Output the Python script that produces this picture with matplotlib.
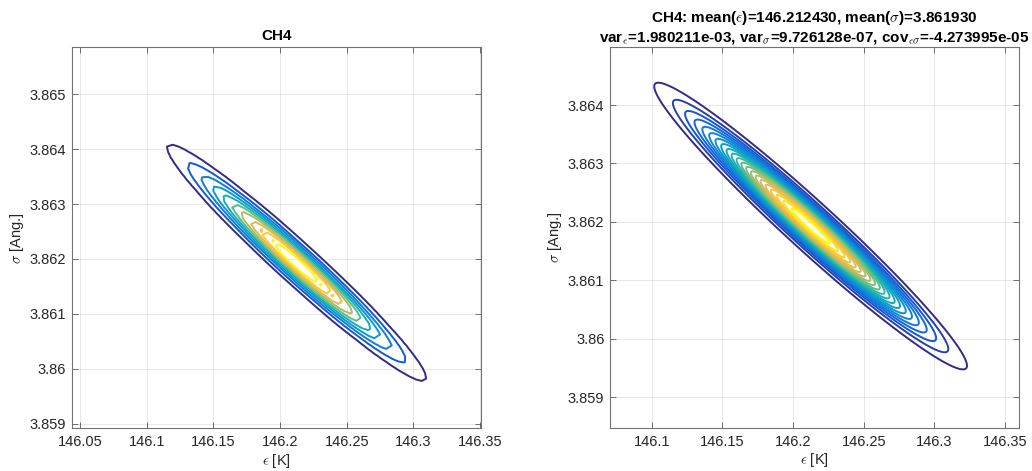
import numpy as np
import matplotlib.pyplot as plt
from matplotlib.colors import LinearSegmentedColormap, Normalize

plt.rcParams['font.family'] = ['Liberation Sans', 'DejaVu Sans']
plt.rcParams['mathtext.fontset'] = 'cm'

# posterior statistics for CH4 (from the title)
mean_eps = 146.212430
mean_sig = 3.861930
var_eps = 1.980211e-03
var_sig = 9.726128e-07
cov_es = -4.273995e-05

# axis ticks
left_xticks = [146.05, 146.1, 146.15, 146.2, 146.25, 146.3, 146.35]
left_yticks = [3.859, 3.86, 3.861, 3.862, 3.863, 3.864, 3.865]
right_xticks = [146.1, 146.15, 146.2, 146.25, 146.3, 146.35]
right_yticks = [3.859, 3.86, 3.861, 3.862, 3.863, 3.864]

# parula-like colormap (matlab default)
parula_pts = [
    (0.2081, 0.1663, 0.5292),
    (0.0591, 0.3598, 0.8683),
    (0.0723, 0.4887, 0.8467),
    (0.0265, 0.6137, 0.8135),
    (0.0843, 0.6928, 0.7062),
    (0.3482, 0.7424, 0.5473),
    (0.6473, 0.7456, 0.4188),
    (0.8824, 0.7274, 0.3217),
    (0.9955, 0.7861, 0.1967),
    (0.9763, 0.9831, 0.0538),
]
parula = LinearSegmentedColormap.from_list('parula', parula_pts)


def gauss2d(E, S):
    """bivariate normal density from the mean / covariance above"""
    det = var_eps * var_sig - cov_es ** 2
    de = E - mean_eps
    ds = S - mean_sig
    q = (var_sig * de ** 2 - 2 * cov_es * de * ds + var_eps * ds ** 2) / det
    return np.exp(-0.5 * q) / (2 * np.pi * np.sqrt(det))


def style(ax, xt, yt):
    ax.set_xticks(xt)
    ax.set_xticklabels(['%g' % v for v in xt])
    ax.set_yticks(yt)
    ax.set_yticklabels(['%g' % v for v in yt])
    ax.tick_params(direction='in', top=True, right=True, length=4, width=0.6,
                   color='0.35', labelcolor='0.15', labelsize=10.5)
    ax.tick_params(axis='x', pad=5)
    ax.tick_params(axis='y', pad=4)
    ax.grid(True, color='0.15', alpha=0.12, lw=0.6)
    ax.set_axisbelow(True)
    for s in ax.spines.values():
        s.set_color('0.45')
        s.set_linewidth(0.8)
    ax.set_xlabel(r'$\epsilon$ [K]', fontsize=10.5, color='0.15', labelpad=2)
    ax.set_ylabel(r'$\sigma$ [Ang.]', fontsize=10.5, color='0.15', labelpad=3)


fig = plt.figure(figsize=(10.32, 4.71), dpi=100)

# left: density estimate of the samples
ax1 = fig.add_axes([0.0695, 0.0907, 0.3966, 0.809])
e1 = np.linspace(146.0437, 146.3507, 70)
s1 = np.linspace(3.858916, 3.865856, 70)
E1, S1 = np.meshgrid(e1, s1)
Z1 = gauss2d(E1, S1)
lev1 = np.linspace(0, Z1.max(), 12)[1:-1]
ax1.contour(E1, S1, Z1, levels=lev1, cmap=parula, norm=Normalize(lev1[0], lev1[-1]),
            linewidths=1.4)
ax1.set_xlim(146.0437, 146.3507)
ax1.set_ylim(3.858916, 3.865856)
style(ax1, left_xticks, left_yticks)
ax1.set_title('CH4', fontsize=11, fontweight='bold', pad=5)

# right: fitted normal distribution
ax2 = fig.add_axes([0.5911, 0.0919, 0.3966, 0.8076])
e2 = np.linspace(146.0705, 146.3601, 600)
s2 = np.linspace(3.85848, 3.864987, 600)
E2, S2 = np.meshgrid(e2, s2)
Z2 = gauss2d(E2, S2)
lev2 = np.linspace(0, Z2.max(), 23)[1:-1]
ax2.contour(E2, S2, Z2, levels=lev2, cmap=parula, norm=Normalize(lev2[0], lev2[-1]),
            linewidths=1.4)
ax2.set_xlim(146.0705, 146.3601)
ax2.set_ylim(3.85848, 3.864987)
style(ax2, right_xticks, right_yticks)
ax2.set_title(r'CH4: mean($\epsilon$)=%.6f, mean($\sigma$)=%.6f' % (mean_eps, mean_sig) + '\n'
              + r'var$_\epsilon$=%.6e, var$_\sigma$=%.6e, cov$_{\epsilon\sigma}$=%.6e'
              % (var_eps, var_sig, cov_es),
              fontsize=11, fontweight='bold', pad=4, linespacing=1.25)

fig.savefig('out.png', dpi=100)
